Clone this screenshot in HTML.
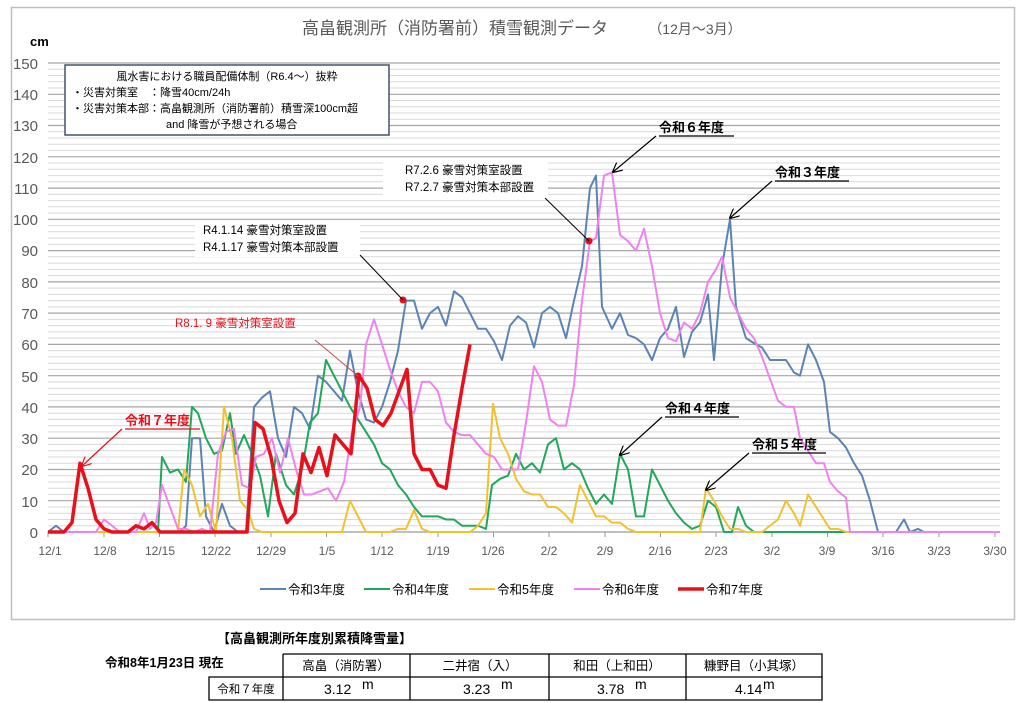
<!DOCTYPE html>
<html><head><meta charset="utf-8"><style>
body{margin:0;background:#fff;}
svg{display:block;font-family:"Liberation Sans","Noto Sans CJK JP",sans-serif;}
</style></head><body>
<svg width="1024" height="703" viewBox="0 0 1024 703" xmlns="http://www.w3.org/2000/svg">
<rect x="0" y="0" width="1024" height="703" fill="#fff"/>
<rect x="11.5" y="7.5" width="1003" height="612" fill="#fff" stroke="#bfbfbf" stroke-width="1.5"/>
<text x="455" y="34" font-size="17" fill="#595959" text-anchor="middle">高畠観測所（消防署前）積雪観測データ</text>
<text x="695" y="34" font-size="14" fill="#595959" text-anchor="middle">（12月～3月）</text>
<text x="30" y="46" font-size="13" fill="#000" font-weight="bold">cm</text>
<g id="grid">
<g stroke="#d9d9d9" stroke-width="1">
<path d="M48 525.7H1000M48 519.5H1000M48 513.2H1000M48 507H1000M48 494.5H1000M48 488.2H1000M48 482H1000M48 475.7H1000M48 463.2H1000M48 457H1000M48 450.7H1000M48 444.4H1000M48 431.9H1000M48 425.7H1000M48 419.4H1000M48 413.2H1000M48 400.7H1000M48 394.4H1000M48 388.2H1000M48 381.9H1000M48 369.4H1000M48 363.2H1000M48 356.9H1000M48 350.6H1000M48 338.1H1000M48 331.9H1000M48 325.6H1000M48 319.4H1000M48 306.9H1000M48 300.6H1000M48 294.4H1000M48 288.1H1000M48 275.6H1000M48 269.4H1000M48 263.1H1000M48 256.8H1000M48 244.3H1000M48 238.1H1000M48 231.8H1000M48 225.6H1000M48 213.1H1000M48 206.8H1000M48 200.6H1000M48 194.3H1000M48 181.8H1000M48 175.6H1000M48 169.3H1000M48 163H1000M48 150.5H1000M48 144.3H1000M48 138H1000M48 131.8H1000M48 119.3H1000M48 113H1000M48 106.8H1000M48 100.5H1000M48 88H1000M48 81.8H1000M48 75.5H1000M48 69.2H1000"/>
</g>
<g stroke="#a6a6a6" stroke-width="1.2">
<path d="M48 500.7H1000M48 469.5H1000M48 438.2H1000M48 406.9H1000M48 375.7H1000M48 344.4H1000M48 313.1H1000M48 281.9H1000M48 250.6H1000M48 219.3H1000M48 188.1H1000M48 156.8H1000M48 125.5H1000M48 94.3H1000M48 63H1000"/>
</g>
<path d="M48 532H1000" stroke="#999" stroke-width="1.2"/>
<path d="M48 532v5M104 532v5M159.5 532v5M215 532v5M271 532v5M326.5 532v5M382 532v5M438 532v5M493.5 532v5M549 532v5M605 532v5M660.5 532v5M716 532v5M772 532v5M827.5 532v5M883 532v5M939 532v5M995 532v5" stroke="#999"/>
</g>
<g font-size="15" fill="#595959" text-anchor="end">
<text x="38" y="538">0</text><text x="38" y="507">10</text><text x="38" y="475">20</text><text x="38" y="444">30</text><text x="38" y="413">40</text><text x="38" y="382">50</text><text x="38" y="350">60</text><text x="38" y="319">70</text><text x="38" y="288">80</text><text x="38" y="256">90</text><text x="38" y="225">100</text><text x="38" y="194">110</text><text x="38" y="163">120</text><text x="38" y="131">130</text><text x="38" y="100">140</text><text x="38" y="69">150</text>
</g>
<g font-size="12" fill="#595959" text-anchor="middle">
<text x="50" y="555">12/1</text><text x="105" y="555">12/8</text><text x="160" y="555">12/15</text><text x="216" y="555">12/22</text><text x="271" y="555">12/29</text><text x="327" y="555">1/5</text><text x="382" y="555">1/12</text><text x="438" y="555">1/19</text><text x="493" y="555">1/26</text><text x="549" y="555">2/2</text><text x="605" y="555">2/9</text><text x="660" y="555">2/16</text><text x="716" y="555">2/23</text><text x="772" y="555">3/2</text><text x="827" y="555">3/9</text><text x="883" y="555">3/16</text><text x="939" y="555">3/23</text><text x="995" y="555">3/30</text>
</g>
<g transform="translate(0,532) scale(1,-3.127)" fill="none" stroke-linejoin="round">
<polyline vector-effect="non-scaling-stroke" stroke="#5b84b4" stroke-width="2" points="48,0 56,2 64,0 180,0 186,2 192,30 200,30 206,5 214,0 222,9 230,2 238,0 246,0 254,40 262,43 270,45 278,30 286,24 294,40 302,38 310,33 318,50 326,48 334,45 342,42 350,58 358,45 366,36 374,35 382,40 390,48 398,58 406,74 414,74 422,65 430,70 438,72 446,66 454,77 462,75 470,70 478,65 486,65 494,61 502,55 510,66 518,69 526,67 534,59 542,70 550,72 558,70 566,62 574,74 582,85 590,110 596,114 602,72 612,65 620,70 628,63 636,62 644,60 652,55 660,62 668,65 676,72 684,56 692,64 700,67 708,76 714,55 722,85 730,100 736,72 746,62 756,60 762,59 770,55 778,55 786,55 794,51 800,50 808,60 816,55 824,48 830,32 838,30 846,27 854,22 862,18 870,10 878,0 896,0 904,4 910,0 918,1 924,0 1000,0"/>
<polyline vector-effect="non-scaling-stroke" stroke="#21a75a" stroke-width="2" points="48,0 158,0 162,24 170,19 178,20 186,16 192,40 198,38 206,30 214,25 222,26 230,38 236,25 244,31 252,25 260,18 268,5 276,25 286,15 294,12 302,20 310,35 318,38 326,55 334,50 342,45 350,40 358,36 366,32 374,28 382,22 390,20 398,15 406,12 414,8 422,5 430,5 438,5 446,4 454,4 462,2 470,2 478,2 486,1 492,15 500,17 508,18 516,25 524,20 532,22 540,19 548,28 556,30 564,20 572,22 580,20 588,14 596,9 604,12 612,9 620,25 628,20 636,5 644,5 652,20 660,15 668,10 676,6 684,3 692,1 700,2 708,10 716,8 724,0 732,0 738,8 746,2 754,0 860,0"/>
<polyline vector-effect="non-scaling-stroke" stroke="#f2c12e" stroke-width="2" points="48,0 178,0 184,20 192,15 200,5 208,9 216,0 224,40 232,30 240,10 248,7 254,1 262,0 342,0 350,10 358,5 366,0 390,0 398,1 406,1 414,7 422,1 430,0 470,0 478,2 486,6 493,41 500,30 508,25 516,17 524,13 532,12 540,12 548,8 556,8 564,6 572,3 580,15 588,10 596,5 604,5 612,3 620,3 628,1 636,0 700,0 706,14 714,10 722,5 730,1 738,1 746,0 762,0 770,2 778,4 786,10 794,6 800,2 808,12 816,8 824,4 830,1 838,1 846,0 860,0"/>
<polyline vector-effect="non-scaling-stroke" stroke="#ee82ee" stroke-width="2" points="48,0 96,0 104,4 112,2 120,0 136,0 144,6 150,1 156,3 162,15 170,8 178,1 186,1 194,0 202,1 210,0 218,25 226,32 234,33 242,15 250,14 256,24 264,25 272,30 280,19 288,30 296,20 304,12 312,12 320,13 328,14 336,10 344,16 352,32 360,40 366,60 374,68 382,60 390,52 398,45 406,40 414,38 422,48 430,48 438,45 446,35 454,32 462,31 470,31 478,28 486,25 494,24 502,20 510,20 518,20 526,35 534,53 542,48 550,36 558,34 566,34 574,47 582,74 590,93 596,94 604,114 612,115 620,95 628,93 636,90 644,97 652,85 660,70 668,62 676,61 684,67 692,65 700,70 708,80 716,84 722,88 730,75 738,70 746,65 754,62 762,56 770,49 778,42 786,40 794,40 800,30 808,26 816,22 824,22 830,16 838,13 846,11 850,0 1000,0"/>
<polyline vector-effect="non-scaling-stroke" stroke="#e8101a" stroke-width="3.5" points="48,0 56,0 64,0 72,3 80,22 88,14 96,4 104,1 112,0 120,0 128,0 136,2 144,1 152,3 160,0 247,0 255,35 263,33 271,24 279,10 287,3 295,6 303,25 311,19 319,27 327,18 335,31 343,28 351,25 359,50 367,46 375,36 383,34 391,38 399,45 407,52 414,25 422,20 430,20 438,15 446,14 454,31 462,46 470,60"/>
</g>
<circle cx="403" cy="300" r="3.5" fill="#e8101a"/>
<circle cx="358" cy="376" r="3.5" fill="#e8101a"/>
<circle cx="589" cy="241" r="3.5" fill="#e8101a"/>
<!-- info box -->
<rect x="65" y="65" width="324" height="70" fill="#fff" stroke="#44546a" stroke-width="1.5"/>
<g font-size="11" fill="#000">
<text x="227" y="80" text-anchor="middle">風水害における職員配備体制（R6.4～）抜粋</text>
<text x="72" y="96">・災害対策室　：降雪40cm/24h</text>
<text x="72" y="112">・災害対策本部：高畠観測所（消防署前）積雪深100cm超</text>
<text x="166" y="128">and 降雪が予想される場合</text>
</g>
<!-- annotations -->
<rect x="383" y="160" width="165" height="36" fill="#fff"/>
<rect x="195" y="221" width="165" height="36" fill="#fff"/>
<g font-size="11.5" fill="#000">
<text x="405" y="174">R7.2.6 豪雪対策室設置</text>
<text x="405" y="191">R7.2.7 豪雪対策本部設置</text>
<text x="203" y="234">R4.1.14 豪雪対策室設置</text>
<text x="203" y="251">R4.1.17 豪雪対策本部設置</text>
</g>
<text x="175" y="327" font-size="11.5" fill="#e8101a">R8.1. 9 豪雪対策室設置</text>
<g stroke="#000" stroke-width="1" fill="none">
<path d="M545 198L589 241M360 255L403 300"/>
<path d="M315 340L358 376" stroke="#c0504d"/>
</g>
<defs><marker id="ar" markerWidth="10" markerHeight="10" refX="9" refY="5" orient="auto" markerUnits="userSpaceOnUse"><path d="M0 0L10 5L0 10" fill="none" stroke="#000" stroke-width="1.2"/></marker>
<marker id="arr" markerWidth="10" markerHeight="10" refX="9" refY="5" orient="auto" markerUnits="userSpaceOnUse"><path d="M0 0L10 5L0 10" fill="none" stroke="#e8101a" stroke-width="1.2"/></marker></defs>
<g font-size="13" fill="#000" font-weight="bold">
<text x="659" y="132">令和６年度</text>
<text x="775" y="177">令和３年度</text>
<text x="665" y="413">令和４年度</text>
<text x="752" y="449">令和５年度</text>
<text x="125" y="425" fill="#e8101a">令和７年度</text>
</g>
<g stroke="#000" stroke-width="1.2" fill="none">
<path d="M659 136H734M656 136L613 172" marker-end="url(#ar)"/>
<path d="M775 181H849M772 181L730 218" marker-end="url(#ar)"/>
<path d="M665 417H739M662 417L620 455" marker-end="url(#ar)"/>
<path d="M752 453H826M749 453L706 490" marker-end="url(#ar)"/>
<path d="M125 429H200" stroke="#e8101a"/>
<path d="M122 429L82 466" stroke="#e8101a" marker-end="url(#arr)"/>
</g>
<!-- legend -->
<g stroke-width="2">
<line x1="260" y1="589" x2="286" y2="589" stroke="#5b84b4"/>
<line x1="364" y1="589" x2="390" y2="589" stroke="#21a75a"/>
<line x1="469" y1="589" x2="495" y2="589" stroke="#f2c12e"/>
<line x1="574" y1="589" x2="600" y2="589" stroke="#ee82ee"/>
<line x1="678" y1="589" x2="704" y2="589" stroke="#e8101a" stroke-width="3.5"/>
</g>
<g font-size="12.5" fill="#000">
<text x="288" y="594">令和3年度</text><text x="392" y="594">令和4年度</text><text x="497" y="594">令和5年度</text><text x="602" y="594">令和6年度</text><text x="706" y="594">令和7年度</text>
</g>
<!-- table -->
<text x="217" y="643" font-size="13" font-weight="bold" fill="#000">【高畠観測所年度別累積降雪量】</text>
<text x="105" y="667" font-size="12.5" font-weight="bold" fill="#000">令和8年1月23日 現在</text>
<g stroke="#000" stroke-width="1.3" fill="none">
<path d="M209 677H822V700H209Z"/>
<path d="M283 654H822V677M283 654V700M410 654V700M549 654V700M686 654V700M822 654V677"/>
</g>
<g font-size="12.5" fill="#000" text-anchor="middle">
<text x="346" y="670">高畠（消防署）</text><text x="480" y="670">二井宿（入）</text><text x="617" y="670">和田（上和田）</text><text x="754" y="670">糠野目（小其塚）</text>
<text x="246" y="693" font-size="11.5">令和７年度</text>
</g>
<g font-size="14" fill="#000">
<text x="324" y="694">3.12</text><text x="362" y="689">m</text>
<text x="463" y="694">3.23</text><text x="501" y="689">m</text>
<text x="597" y="694">3.78</text><text x="635" y="689">m</text>
<text x="735" y="694">4.14</text><text x="763" y="689">m</text>
</g>
</svg>
</body></html>
